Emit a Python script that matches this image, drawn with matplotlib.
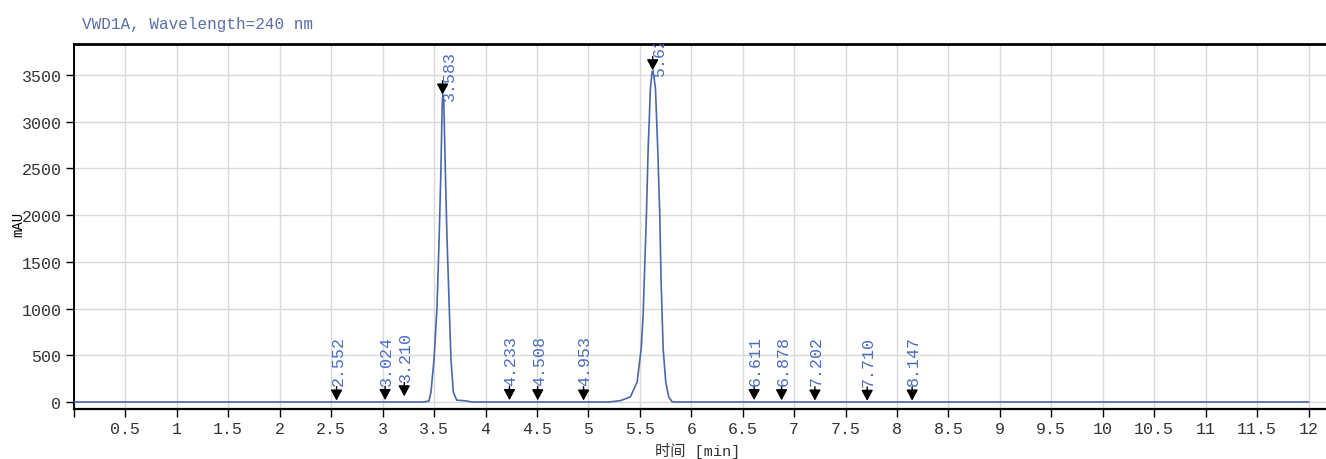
import matplotlib
matplotlib.use("Agg")
import matplotlib.pyplot as plt
from matplotlib.ticker import MultipleLocator, FuncFormatter
import matplotlib.transforms as mtransforms

# detector trace (time in min, signal in mAU)
trace_t = [0.0, 2.50, 3.40, 3.45, 3.47, 3.50, 3.528, 3.55, 3.567, 3.578, 3.585,
           3.595, 3.609, 3.625, 3.648, 3.664, 3.687, 3.72, 3.78, 3.83, 3.86,
           5.20, 5.311, 5.408, 5.474, 5.513, 5.532, 5.548, 5.564, 5.581, 5.603,
           5.62, 5.635, 5.652, 5.674, 5.694, 5.707, 5.727, 5.752, 5.781, 5.814,
           5.85, 12.0]
trace_y = [0, 0, 0, 10, 107, 460, 1000, 1780, 2500, 3150, 3290,
           3200, 2500, 1780, 1000, 460, 107, 20, 15, 8, 0,
           0, 14, 54, 214, 568, 925, 1461, 1997, 2712, 3355,
           3540, 3500, 3355, 2712, 1997, 1283, 568, 214, 54, 3,
           0, 0]

# integrated peaks
peak_rt = [2.552, 3.024, 3.210, 3.583, 4.233, 4.508, 4.953, 5.625,
           6.611, 6.878, 7.202, 7.710, 8.147]
peak_h = [15, 20, 60, 3290, 20, 18, 15, 3550, 20, 18, 15, 12, 15]
peak_labels = ["2.552", "3.024", "3.210", "3.583", "4.233", "4.508", "4.953",
               "5.625", "6.611", "6.878", "7.202", "7.710", "8.147"]

title = "VWD1A, Wavelength=240 nm"
mono = ["Liberation Mono", "Noto Sans CJK SC"]

fig = plt.figure(figsize=(13.26, 4.6), dpi=100)
ax = fig.add_axes([74 / 1326, 50 / 460, 1 - 74 / 1326, 365 / 460])

ax.plot(trace_t, trace_y, color="#4a68a8", lw=1.2, zorder=3)

ax.set_xlim(0, 12.17)
ax.set_ylim(-75, 3832)
ax.xaxis.set_major_locator(MultipleLocator(0.5))
ax.yaxis.set_major_locator(MultipleLocator(500))
ax.xaxis.set_major_formatter(FuncFormatter(lambda v, p: "" if v <= 0 else "%g" % v))
ax.grid(True, color="#d9d9d9", lw=1, zorder=0)
ax.set_axisbelow(True)

ax.spines["right"].set_visible(False)
ax.spines["top"].set_linewidth(2)
ax.spines["left"].set_linewidth(1.4)
ax.spines["bottom"].set_linewidth(1.6)
ax.tick_params(direction="out", length=6, width=1, pad=3,
               labelsize=12, labelcolor="#333333")
for lab in ax.get_xticklabels() + ax.get_yticklabels():
    lab.set_family(mono)

# peak markers and retention time labels
for rt, h, txt in zip(peak_rt, peak_h, peak_labels):
    ax.annotate("", xy=(rt, h), xytext=(0, 10), textcoords="offset points",
                arrowprops=dict(arrowstyle="-|>,head_width=0.35,head_length=0.65",
                                color="black", lw=1, shrinkA=0, shrinkB=0),
                zorder=4)
    if h > 1000:
        # tall peaks: label sits beside the marker
        dx, dy = 5, -4
    else:
        dx, dy = 1, 11
    off = mtransforms.offset_copy(ax.transData, fig=fig, x=dx, y=dy, units="points")
    ax.text(rt, h, txt, transform=off, rotation=90, ha="center", va="bottom",
            fontsize=12, color="#4a6cc0", family=mono, clip_on=True, zorder=5)

fig.text(82 / 1326, 1 - 25 / 460, title, ha="left", va="center",
         fontsize=11.5, color="#5a6ea8", family=mono)
fig.text(18 / 1326, 1 - 224 / 460, "mAU", rotation=90, ha="center", va="center",
         fontsize=10, color="black", family=mono)
fig.text(698 / 1326, 1 - 451 / 460, "时间 [min]", ha="center", va="center",
         fontsize=11, color="#333333", family=mono)

fig.savefig("out.png", dpi=100)
